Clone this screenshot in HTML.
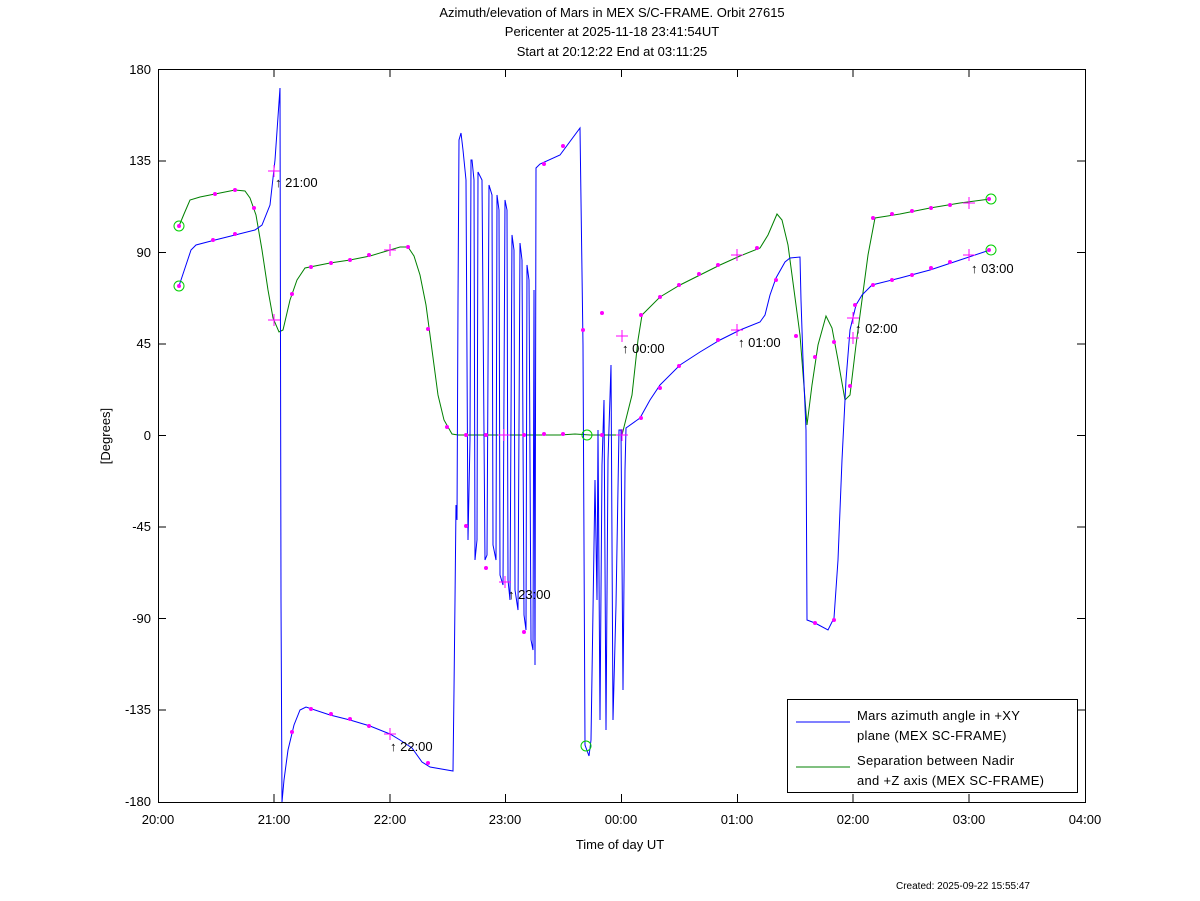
<!DOCTYPE html>
<html><head><style>
body{margin:0;background:#fff}
svg{display:block;font-family:"Liberation Sans",sans-serif}
</style></head><body>
<svg width="1200" height="901" viewBox="0 0 1200 901" xmlns="http://www.w3.org/2000/svg">
<rect width="1200" height="901" fill="#fff"/>
<g font-size="13" text-anchor="middle" fill="#000">
<text x="612" y="17">Azimuth/elevation of Mars in MEX S/C-FRAME.  Orbit 27615</text>
<text x="612" y="36">Pericenter at 2025-11-18 23:41:54UT</text>
<text x="612" y="56">Start at 20:12:22 End at 03:11:25</text>
</g>
<rect x="158.5" y="69.5" width="927" height="733" fill="none" stroke="#000"/>
<g stroke="#000">
<path d="M158 69.5h8M158 161h8M158 252.5h8M158 344h8M158 435.5h8M158 527h8M158 618.5h8M158 710h8M1085 69.5h-8M1085 161h-8M1085 252.5h-8M1085 344h-8M1085 435.5h-8M1085 527h-8M1085 618.5h-8M1085 710h-8"/>
<path d="M274 802v-8M390 802v-8M505.5 802v-8M621.5 802v-8M737.5 802v-8M853 802v-8M969 802v-8M274 69v8M390 69v8M505.5 69v8M621.5 69v8M737.5 69v8M853 69v8M969 69v8"/>
</g>
<g font-size="13" text-anchor="end">
<text x="151" y="74">180</text><text x="151" y="165">135</text><text x="151" y="257">90</text><text x="151" y="348">45</text><text x="151" y="440">0</text><text x="151" y="531">-45</text><text x="151" y="623">-90</text><text x="151" y="714">-135</text><text x="151" y="806">-180</text>
</g>
<g font-size="13" text-anchor="middle">
<text x="158" y="824">20:00</text><text x="274" y="824">21:00</text><text x="390" y="824">22:00</text><text x="505" y="824">23:00</text><text x="621" y="824">00:00</text><text x="737" y="824">01:00</text><text x="853" y="824">02:00</text><text x="969" y="824">03:00</text><text x="1085" y="824">04:00</text>
<text x="620" y="849">Time of day UT</text>
<text x="110" y="436" transform="rotate(-90 110 436)">[Degrees]</text>
</g>
<text x="1030" y="889" font-size="10" text-anchor="end">Created: 2025-09-22 15:55:47</text>

<polyline fill="none" stroke="#008000" stroke-width="1" points="179,226 184,214 190,200 200,197 215,194 235,190 245,191 250,198 256,215 262,250 268,290 273,318 279,332 283,330 290,300 297,280 305,268 330,263 350,260 370,256 390,250 400,247 408,247 414,256 420,275 426,305 432,350 438,395 444,420 452,434 458,435 560,435 575,434 590,435 622,435 632,395 638,340 642,315 660,297 680,285 700,275 720,265 740,256 760,248 768,235 777,214 782,220 788,245 794,290 800,335 807,425 812,385 818,345 826,316 832,328 838,360 845,400 850,395 856,345 862,300 868,255 875,218 900,214 930,208 960,203 990,199"/>
<polyline fill="none" stroke="#0000ff" stroke-width="1" points="179,286 185,268 191,250 196,245 215,240 235,235 255,230 262,225 270,205 275,160 280,88 281,600 282,802 284,780 288,750 294,725 300,710 306,707 330,715 350,720 370,726 390,734 400,740 412,748 422,762 430,767 453,771 454,690 455,600 456,505 457,520 458,300 459,140 461,133 463,150 466,180 468,540 470,440 471,160 472,160 474,180 475,560 477,540 478,172 482,180 485,560 487,555 489,185 492,195 493,545 496,560 497,195 499,210 500,575 503,585 505,200 507,210 508,580 510,600 512,235 514,250 515,590 518,610 520,243 522,260 524,615 526,630 527,265 529,280 531,640 533,650 534,290 535,665 536,168 540,164 560,155 580,128 583,345 585,745 589,756 591,740 595,480 597,600 598,430 600,720 602,465 604,400 606,730 608,460 611,365 613,720 616,605 619,430 621,430 623,690 625,470 626,428 640,418 650,400 660,385 680,365 700,352 720,340 740,330 760,322 765,315 770,295 776,278 785,262 790,258 800,257 801,300 803,360 806,430 807,620 815,623 828,630 834,618 838,560 842,460 846,380 850,330 856,305 862,295 872,285 900,278 930,270 960,260 990,250"/>

<g fill="#ff00ff">
<circle cx="179" cy="286" r="2"/><circle cx="213" cy="240" r="2"/><circle cx="235" cy="234" r="2"/><circle cx="179" cy="226" r="2"/><circle cx="215" cy="194" r="2"/><circle cx="235" cy="190" r="2"/><circle cx="254" cy="208" r="2"/><circle cx="292" cy="294" r="2"/><circle cx="311" cy="267" r="2"/><circle cx="331" cy="263" r="2"/><circle cx="350" cy="260" r="2"/><circle cx="369" cy="255" r="2"/><circle cx="408" cy="247" r="2"/><circle cx="428" cy="329" r="2"/><circle cx="447" cy="427" r="2"/><circle cx="466" cy="526" r="2"/><circle cx="466" cy="435" r="2"/><circle cx="486" cy="568" r="2"/><circle cx="486" cy="435" r="2"/><circle cx="524" cy="632" r="2"/><circle cx="524" cy="435" r="2"/><circle cx="544" cy="434" r="2"/><circle cx="563" cy="434" r="2"/><circle cx="544" cy="164" r="2"/><circle cx="563" cy="146" r="2"/><circle cx="583" cy="330" r="2"/><circle cx="602" cy="435" r="2"/><circle cx="602" cy="313" r="2"/><circle cx="641" cy="418" r="2"/><circle cx="660" cy="388" r="2"/><circle cx="679" cy="366" r="2"/><circle cx="718" cy="340" r="2"/><circle cx="641" cy="315" r="2"/><circle cx="660" cy="297" r="2"/><circle cx="679" cy="285" r="2"/><circle cx="699" cy="274" r="2"/><circle cx="718" cy="265" r="2"/><circle cx="757" cy="248" r="2"/><circle cx="776" cy="280" r="2"/><circle cx="796" cy="336" r="2"/><circle cx="815" cy="357" r="2"/><circle cx="834" cy="342" r="2"/><circle cx="815" cy="623" r="2"/><circle cx="834" cy="620" r="2"/><circle cx="873" cy="285" r="2"/><circle cx="873" cy="218" r="2"/><circle cx="892" cy="280" r="2"/><circle cx="912" cy="275" r="2"/><circle cx="931" cy="268" r="2"/><circle cx="950" cy="262" r="2"/><circle cx="892" cy="214" r="2"/><circle cx="912" cy="211" r="2"/><circle cx="931" cy="208" r="2"/><circle cx="950" cy="205" r="2"/><circle cx="989" cy="250" r="2"/><circle cx="989" cy="199" r="2"/><circle cx="292" cy="732" r="2"/><circle cx="311" cy="709" r="2"/><circle cx="331" cy="714" r="2"/><circle cx="350" cy="719" r="2"/><circle cx="369" cy="726" r="2"/><circle cx="428" cy="763" r="2"/><circle cx="850" cy="386" r="2"/><circle cx="855" cy="305" r="2"/>
</g>
<g stroke="#ff00ff" stroke-width="1">
<path d="M268 171h12M274 165v12M268 320h12M274 314v12M384 250h12M390 244v12M384 734h12M390 728v12M499 582h12M505 576v12M616 336h12M622 330v12M616 435h12M622 429v12M731 330h12M737 324v12M731 255h12M737 249v12M847 318h12M853 312v12M847 338h12M853 332v12M963 203h12M969 197v12M963 255h12M969 249v12M498 435h12M504 429v12"/>
</g>
<g fill="none" stroke="#00cc00">
<circle cx="179" cy="286" r="5"/><circle cx="179" cy="226" r="5"/><circle cx="587" cy="435" r="5"/><circle cx="586" cy="746" r="5"/><circle cx="991" cy="250" r="5"/><circle cx="991" cy="199" r="5"/>
</g>
<g font-size="13">
<text x="275" y="187">↑ 21:00</text>
<text x="390" y="751">↑ 22:00</text>
<text x="508" y="599">↑ 23:00</text>
<text x="622" y="353">↑ 00:00</text>
<text x="738" y="347">↑ 01:00</text>
<text x="855" y="333">↑ 02:00</text>
<text x="971" y="273">↑ 03:00</text>
</g>
<rect x="787.5" y="699.5" width="290" height="93" fill="#fff" stroke="#000"/>
<line x1="796" y1="722" x2="850" y2="722" stroke="#0000ff"/>
<line x1="796" y1="767" x2="850" y2="767" stroke="#008000"/>
<g font-size="13" letter-spacing="0.3">
<text x="857" y="720">Mars azimuth angle in +XY</text>
<text x="857" y="740">plane (MEX SC-FRAME)</text>
<text x="857" y="765">Separation between Nadir</text>
<text x="857" y="785">and +Z axis (MEX SC-FRAME)</text>
</g>
</svg>
</body></html>
